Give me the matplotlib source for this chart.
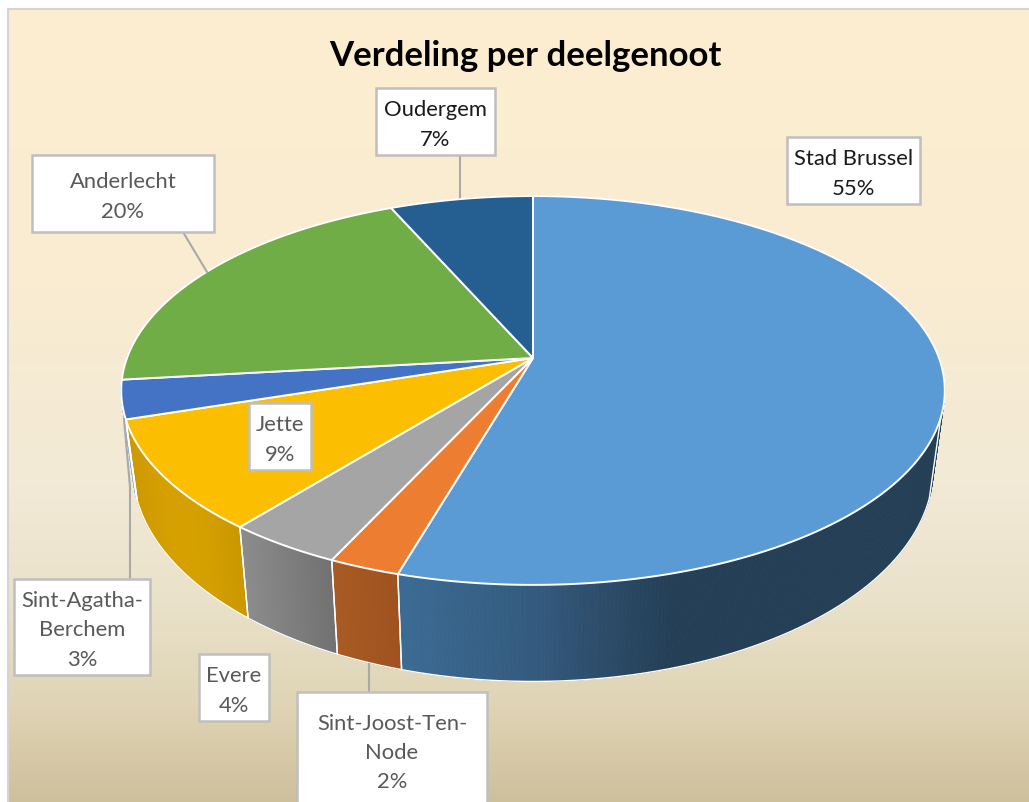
import numpy as np
import matplotlib
matplotlib.use("Agg")
import matplotlib.pyplot as plt
from matplotlib.colors import LinearSegmentedColormap
from matplotlib.patches import Polygon, Rectangle

plt.rcParams["font.family"] = ["Lato", "DejaVu Sans"]

# clockwise from 12 o'clock
names = ["Stad Brussel", "Sint-Joost-Ten-\nNode", "Evere", "Jette",
         "Sint-Agatha-\nBerchem", "Anderlecht", "Oudergem"]
shares = [54.51, 2.4, 3.9, 9.2, 3.2, 20.19, 6.6]

top_colors = ["#5b9bd5", "#ed7d31", "#a5a5a5", "#fbbe00", "#4472c4", "#70ad47", "#255e91"]
# side shading, from the left end of the slice to the right end
side_colors = [
    ["#3b6b94", "#345a7e", "#243f56", "#243f56", "#243f56"],
    ["#a95b24", "#9f521e"],
    ["#8c8c8c", "#717171"],
    ["#cc9900", "#d6a000", "#d4a000", "#c99700"],
    ["#9db3d6", "#9db3d6"],
    ["#70ad47", "#5c8f3a"],
    ["#255e91", "#1d4a72"],
]
text_colors = ["#1a1a1a", "#595959", "#595959", "#595959", "#595959", "#595959", "#1a1a1a"]

# label boxes: left, top, right, bottom in pixels
boxes = [(787, 138, 920, 205), (297, 693, 487, 810), (199, 655, 269, 722), (249, 404, 311, 471),
         (14, 580, 150, 676), (32, 156, 214, 233), (376, 89, 495, 156)]
leaders = [None, [(369, 693), (369, 665)], None, None,
           [(130, 580), (130, 488), (124, 420)], [(183, 233), (207, 273)], [(460, 155), (460, 198)]]

# pie geometry in pixels
cx, cy = 533, 359
rx, ry, persp = 406, 189, 0.167
side_from = 418
n_steps = 400


def rim(theta):
    x = np.sin(theta)
    y = np.cos(theta)
    w = 1 + persp * y
    return cx + rx * x / w, cy - ry * y / w


def lower(px, py):
    return cx + (px - cx) * 0.972, cy + 75 + (py - cy) * 1.095


fig = plt.figure(figsize=(10.29, 8.03), dpi=100)
ax = fig.add_axes([0, 0, 1, 1])
ax.axis("off")

bg = LinearSegmentedColormap.from_list("bg", [
    (0.0, "#fdeed0"), (0.35, "#f9ecd1"), (0.6, "#f2ead6"), (0.75, "#e9e1c9"),
    (0.88, "#dfd4b5"), (1.0, "#cfc09c")])
ax.imshow(np.linspace(0, 1, 256).reshape(-1, 1), cmap=bg, extent=(8, 1029, 803, 10),
          aspect="auto", zorder=0)
ax.plot([8, 8, 1029], [803, 10, 10], color="#d4d4d4", lw=1.5, zorder=1)
ax.set_xlim(0, 1029)
ax.set_ylim(803, 0)

edges = np.radians(np.concatenate([[0], np.cumsum(shares)]) * 3.6)

# sides first, the top face covers the far half
for i in np.argsort(-np.cos((edges[:-1] + edges[1:]) / 2)):
    th = np.linspace(edges[i], edges[i + 1], n_steps + 1)
    px, py = rim(th)
    qx, qy = lower(px, py)
    cmap = LinearSegmentedColormap.from_list("side", side_colors[i])
    span = px.max() - px.min()
    for j in range(n_steps):
        c = cmap(((px[j] + px[j + 1]) / 2 - px.min()) / span)
        ax.add_patch(Polygon([(px[j], py[j]), (px[j + 1], py[j + 1]),
                              (qx[j + 1], qy[j + 1]), (qx[j], qy[j])],
                             fc=c, ec=c, lw=0.6, zorder=2))
    # white edge only on the part of the side that can be seen
    seen = py >= side_from
    if seen.any():
        first = np.argmax(seen)
        last = len(seen) - 1 - np.argmax(seen[::-1])
        ox = [px[first]] + list(qx[seen]) + [px[last]]
        oy = [py[first]] + list(qy[seen]) + [py[last]]
        ax.plot(ox, oy, color="white", lw=1.0, solid_joinstyle="round", zorder=3)

for i in range(len(shares)):
    th = np.linspace(edges[i], edges[i + 1], n_steps + 1)
    px, py = rim(th)
    pts = [(cx, cy)] + list(zip(px, py))
    ax.add_patch(Polygon(pts, fc=top_colors[i], ec="white", lw=1.4, joinstyle="round", zorder=4))

for i, name in enumerate(names):
    if leaders[i]:
        xs, ys = zip(*leaders[i])
        ax.plot(xs, ys, color="#a9a9a9", lw=1.5, zorder=5)
    l, t, r, b = boxes[i]
    ax.add_patch(Rectangle((l, t), r - l, b - t, fc="white", ec="#bfbfbf", lw=1.8, zorder=6))
    txt = f"{name}\n{shares[i]:.0f}%"
    tcy = (t + b) / 2 + 2.5 if b <= 803 else t + 60
    ax.text((l + r) / 2, tcy, txt, ha="center", va="center", fontsize=15.8, linespacing=1.58,
            color=text_colors[i], zorder=7, clip_on=True)

ax.text(525, 56, "Verdeling per deelgenoot", ha="center", va="center", fontsize=25,
        fontweight="bold", color="black", zorder=7)

fig.savefig("out.png", dpi=100)
